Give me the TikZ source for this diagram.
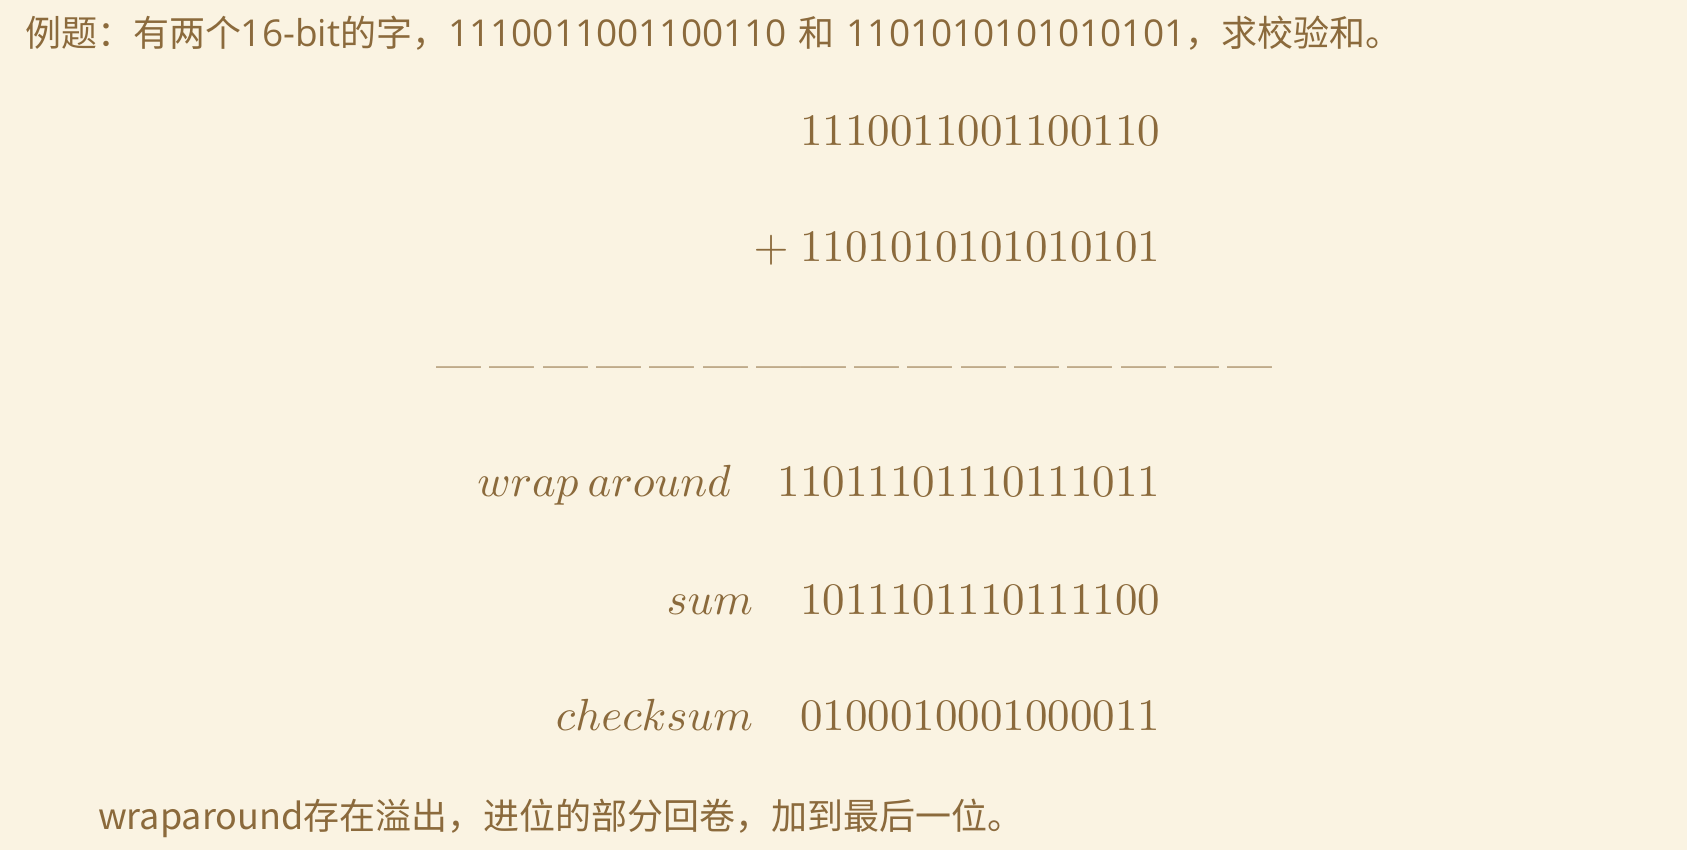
\documentclass[tikz,border=0pt]{standalone}
\usepackage{fontspec}
\usepackage{graphicx}
\newfontfamily\cjk{Noto Sans CJK SC}
\newfontfamily\lat{Open Sans}
\definecolor{bgc}{RGB}{250,243,226}
\definecolor{txt}{RGB}{139,106,60}
\newcommand\bx[1]{\scalebox{4.5}{#1}}
\newcommand\dg{\textemdash\hspace{1.84pt}}
\newcommand\lt[1]{{\fontsize{37}{40}\selectfont\lat #1}}
\begin{document}
\begin{tikzpicture}[x=1pt,y=-1pt,
  every node/.style={inner sep=0pt,outer sep=0pt,text=txt},
  cn/.style={font=\fontsize{36}{40}\selectfont\cjk, anchor=base west},
  num/.style={font=\fontsize{10}{12}\selectfont, anchor=base east},
  lbl/.style={font=\fontsize{10}{12}\selectfont, anchor=base east}]
\fill[bgc] (0,0) rectangle (1687,850);
\useasboundingbox (0,0) rectangle (1687,850);
\node[cn] (title) at (25,47) {例题：有两个\lt{16-bit}的字，\lt{1110011001100110}\hspace{12pt}和\hspace{12pt}\lt{1101010101010101}，求校验和。};
\node[num] (a) at (1160,146) {\bx{1110011001100110}};
\node[num] (b) at (1160,262) {\bx{1101010101010101}};
\node[num] (plus) at (788.5,262) {\bx{$+$}};
\node[font=\fontsize{10}{12}\selectfont, anchor=base west] (dashes) at (436.7,379)
  {\bx{\dg\dg\dg\dg\dg\dg\textemdash\dg\dg\dg\dg\dg\dg\dg\dg\textemdash}};
\node[lbl] (wl) at (731,496) {\bx{$wrap\hspace{2pt}around$}};
\node[num] (wn) at (1160,496) {\bx{11011101110111011}};
\node[lbl] (sl) at (753,614) {\bx{$sum$}};
\node[num] (sn) at (1160,614) {\bx{1011101110111100}};
\node[lbl] (cl) at (753,730) {\bx{$checksum$}};
\node[num] (cnum) at (1160,730) {\bx{0100010001000011}};
\node[cn] (note) at (98,829) {wraparound存在溢出，进位的部分回卷，加到最后一位。};
\end{tikzpicture}
\end{document}
